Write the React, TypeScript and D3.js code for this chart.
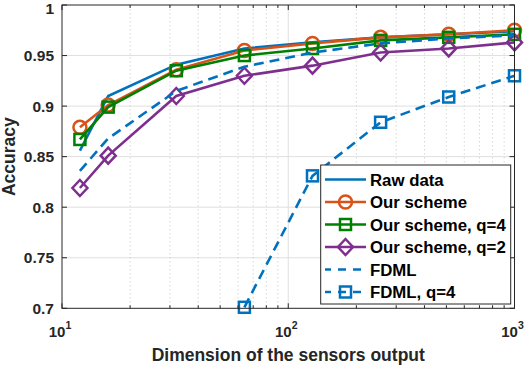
import React from "react";
import * as d3 from "d3";

const dims = [12, 16, 32, 64, 128, 256, 512, 1000];
const rawData = [0.856, 0.910, 0.941, 0.957, 0.963, 0.968, 0.971, 0.974];
const ourScheme = [0.879, 0.901, 0.936, 0.955, 0.962, 0.968, 0.971, 0.975];
const ourSchemeQ4 = [0.867, 0.899, 0.935, 0.950, 0.957, 0.965, 0.968, 0.971];
const ourSchemeQ2 = [0.819, 0.851, 0.910, 0.930, 0.940, 0.953, 0.957, 0.963];
const fdml = [0.836, 0.868, 0.915, 0.939, 0.953, 0.962, 0.967, 0.970];
const fdmlQ4Dims = [64, 128, 256, 512, 1000];
const fdmlQ4 = [0.701, 0.831, 0.884, 0.909, 0.930];
const yTicks = [0.7, 0.75, 0.8, 0.85, 0.9, 0.95, 1];
const yTickLabels = ["0.7", "0.75", "0.8", "0.85", "0.9", "0.95", "1"];
const xTicks = [10, 100, 1000];
const xTickExp = ["1", "2", "3"];
const legendLabels = ["Raw data", "Our scheme", "Our scheme, q=4", "Our scheme, q=2", "FDML", "FDML, q=4"];

const W = 526, H = 366;
const L = 62, R = 514.5, T = 5, B = 308.3;
const FONT = "'Liberation Sans', Arial, Helvetica, sans-serif";
const AX = "#262626";

type Series = { name: string; xs: number[]; ys: number[]; color: string; dash?: string; marker: string };

export default function App() {
  const x = d3.scaleLog().domain([10, 1000]).range([L, R]);
  const y = d3.scaleLinear().domain([0.7, 1]).range([B, T]);
  const series: Series[] = [
    { name: legendLabels[0], xs: dims, ys: rawData, color: "#0072BD", marker: "none" },
    { name: legendLabels[1], xs: dims, ys: ourScheme, color: "#D95319", marker: "circle" },
    { name: legendLabels[2], xs: dims, ys: ourSchemeQ4, color: "#008000", marker: "square" },
    { name: legendLabels[3], xs: dims, ys: ourSchemeQ2, color: "#7E2F8E", marker: "diamond" },
    { name: legendLabels[4], xs: dims, ys: fdml, color: "#0072BD", dash: "10,6", marker: "none" },
    { name: legendLabels[5], xs: fdmlQ4Dims, ys: fdmlQ4, color: "#0072BD", dash: "10,6", marker: "bsquare" },
  ];
  const line = d3.line<[number, number]>().x(d => x(d[0])).y(d => y(d[1]));

  const minor: number[] = [];
  for (const dec of [10, 100]) for (let k = 2; k <= 9; k++) minor.push(dec * k);

  const marker = (m: string, cx: number, cy: number, color: string, key: string) => {
    if (m === "circle") return <circle key={key} cx={cx} cy={cy} r={6.5} fill="none" stroke={color} strokeWidth={2.5} />;
    if (m === "square" || m === "bsquare") return <rect key={key} x={cx - 5.5} y={cy - 5.5} width={11} height={11} fill="none" stroke={color} strokeWidth={2.5} />;
    if (m === "diamond") return <path key={key} d={`M${cx},${cy - 8}L${cx + 7.5},${cy}L${cx},${cy + 8}L${cx - 7.5},${cy}Z`} fill="none" stroke={color} strokeWidth={2.5} />;
    return null;
  };

  const legX = 320.7, legY = 165, legW = 190, legH = 139;
  const rowY = [179.5, 202, 224.5, 247, 269.5, 292];

  return (
    <svg width={W} height={H} style={{ position: "absolute", left: 0, top: 0, background: "#fff" }} fontFamily={FONT}>
      <rect x={0} y={0} width={W} height={H} fill="#fff" />
      <rect x={L} y={T} width={R - L} height={B - T} fill="#fff" />
      {yTicks.slice(1, -1).map((t, i) => (
        <line key={"gy" + i} x1={L} x2={R} y1={y(t)} y2={y(t)} stroke="#dfdfdf" strokeWidth={1} />
      ))}
      {minor.map((t, i) => (
        <line key={"gm" + i} x1={x(t)} x2={x(t)} y1={T} y2={B} stroke="#cfcfcf" strokeWidth={0.8} strokeDasharray="1.5,2.5" />
      ))}
      <line x1={x(100)} x2={x(100)} y1={T} y2={B} stroke="#dfdfdf" strokeWidth={1} />
      {series.map((s, si) => (
        <g key={"s" + si}>
          <path d={line(s.xs.map((v, i) => [v, s.ys[i]] as [number, number])) || ""} fill="none" stroke={s.color} strokeWidth={2.6} strokeDasharray={s.dash} />
          {s.xs.map((v, i) => marker(s.marker, x(v), y(s.ys[i]), s.color, "m" + si + "-" + i))}
        </g>
      ))}
      <rect x={L} y={T} width={R - L} height={B - T} fill="none" stroke={AX} strokeWidth={1} />
      {yTicks.map((t, i) => (
        <g key={"yt" + i}>
          <line x1={L} x2={L + 5} y1={y(t)} y2={y(t)} stroke={AX} />
          <line x1={R} x2={R - 5} y1={y(t)} y2={y(t)} stroke={AX} />
          <text x={L - 8} y={Math.max(y(t), 8.5)} dy="0.36em" textAnchor="end" fontSize={15.5} fontWeight="bold" fill={AX}>{yTickLabels[i]}</text>
        </g>
      ))}
      {xTicks.map((t, i) => (
        <g key={"xt" + i}>
          <line x1={x(t)} x2={x(t)} y1={B} y2={B - 5} stroke={AX} />
          <line x1={x(t)} x2={x(t)} y1={T} y2={T + 5} stroke={AX} />
          <text x={x(t) - 2} y={336.5} textAnchor="middle" fontSize={15} fontWeight="bold" fill={AX}>
            10<tspan dy={-8} fontSize={10.5}>{xTickExp[i]}</tspan>
          </text>
        </g>
      ))}
      {minor.map((t, i) => (
        <g key={"mt" + i}>
          <line x1={x(t)} x2={x(t)} y1={B} y2={B - 3} stroke={AX} />
          <line x1={x(t)} x2={x(t)} y1={T} y2={T + 3} stroke={AX} />
        </g>
      ))}
      <text x={(L + R) / 2} y={360.5} textAnchor="middle" fontSize={17.5} fontWeight="bold" fill={AX}>Dimension of the sensors output</text>
      <text transform={`translate(15,${(T + B) / 2}) rotate(-90)`} textAnchor="middle" fontSize={17.5} fontWeight="bold" fill={AX}>Accuracy</text>
      <rect x={legX} y={legY} width={legW} height={legH} fill="#fff" stroke={AX} strokeWidth={1} />
      {series.map((s, i) => (
        <g key={"lg" + i}>
          <line x1={325} x2={366} y1={rowY[i]} y2={rowY[i]} stroke={s.color} strokeWidth={2.6} strokeDasharray={s.dash ? "8,7" : undefined} strokeDashoffset={s.dash ? 2 : undefined} />
          {marker(s.marker, 345.5, rowY[i], s.color, "lm" + i)}
          <text x={370} y={rowY[i]} dy="0.36em" fontSize={16.8} fontWeight="bold" fill="#000">{s.name}</text>
        </g>
      ))}
    </svg>
  );
}
